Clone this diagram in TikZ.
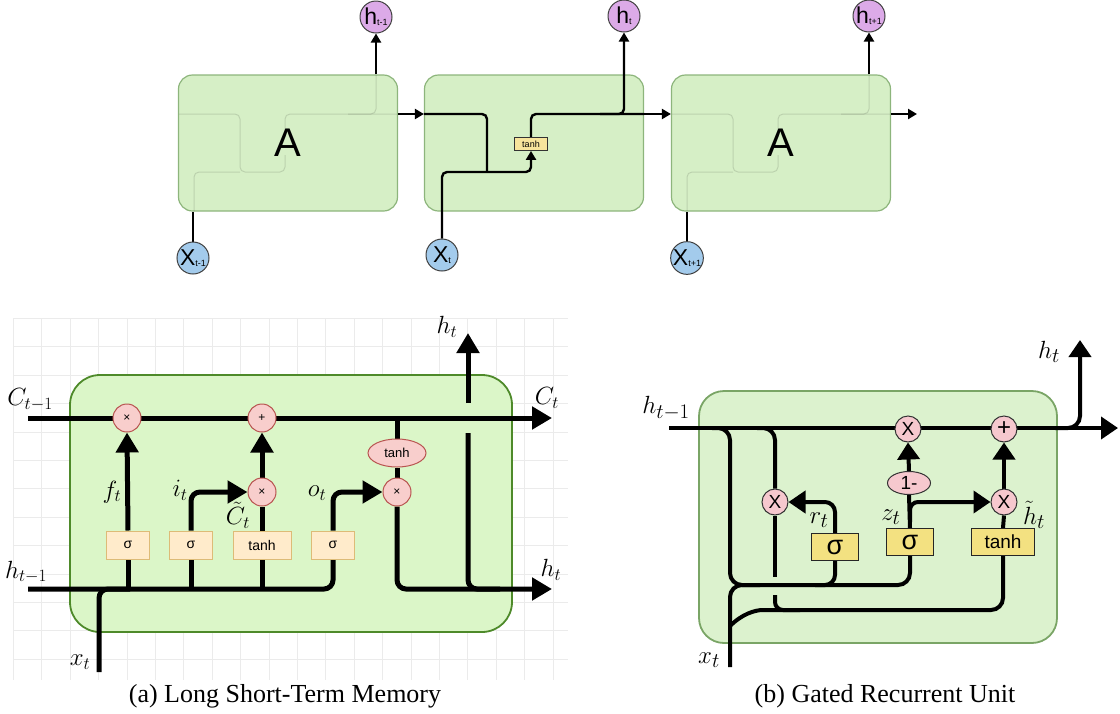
\documentclass[tikz,border=0pt]{standalone}
\usepackage{fontspec}
\setmainfont{Liberation Serif}
\newfontfamily\sansf{Liberation Sans}
\usepackage{tikz}
\usetikzlibrary{arrows.meta, shapes.geometric}

\definecolor{cellfill}{HTML}{D6EFC6}
\definecolor{celledge}{HTML}{8DB57C}
\definecolor{hfill}{HTML}{DCAAE8}
\definecolor{xfill}{HTML}{A3CBEC}
\definecolor{actfill}{HTML}{F7E49C}
\definecolor{lstmfill}{HTML}{DBF6C8}
\definecolor{lstmedge}{HTML}{4E8A2A}
\definecolor{opfill}{HTML}{F8CECC}
\definecolor{opedge}{HTML}{B85450}
\definecolor{gatefill}{HTML}{FFEBCB}
\definecolor{gateedge}{HTML}{DDBB77}
\definecolor{grufill}{HTML}{DCF2CE}
\definecolor{gruedge}{HTML}{7AA566}
\definecolor{gruact}{HTML}{F3E181}
\definecolor{gruop}{HTML}{F6C8CE}
\definecolor{gridc}{HTML}{EBEBEB}

\pgfdeclarelayer{back}
\pgfdeclarelayer{mid}
\pgfsetlayers{back,mid,main}

\newcommand\cellio[2]{\sansf\fontsize{23}{23}\selectfont #1\raisebox{-1pt}{\fontsize{9}{9}\selectfont #2}}

\tikzset{
  cell/.style={draw=celledge, fill=cellfill, line width=1.2pt, rounded corners=14pt,
    minimum width=219pt, minimum height=136pt, font=\sansf\fontsize{40}{40}\selectfont},
  hio/.style={circle, draw=black!75, line width=1pt, fill=hfill, minimum size=32pt, inner sep=0pt},
  xio/.style={hio, fill=xfill},
  toptanh/.style={draw=black!80, fill=actfill, line width=0.8pt, minimum width=33pt,
    minimum height=13pt, inner sep=0pt, font=\sansf\fontsize{9}{9}\selectfont},
  topline/.style={line width=2.4pt},
  topflow/.style={topline, -{Triangle[length=9pt,width=10pt]}},
  ghost/.style={line width=1pt, black, opacity=0.12},
  lstmbox/.style={draw=lstmedge, fill=lstmfill, line width=1.8pt, rounded corners=30pt,
    minimum width=442pt, minimum height=257pt},
  op/.style={circle, draw=opedge, fill=opfill, line width=1pt, minimum size=28pt,
    inner sep=0pt, font=\sansf\fontsize{12}{12}\selectfont},
  gate/.style={draw=gateedge, fill=gatefill, line width=1pt, minimum width=43pt,
    minimum height=28pt, inner sep=0pt, font=\sansf\fontsize{14}{14}\selectfont},
  lab/.style={inner sep=0pt, font=\fontsize{26}{26}\selectfont},
  lstmline/.style={line width=5pt},
  lstmflow/.style={lstmline, -{Triangle[length=20pt,width=22pt]}},
  grubox/.style={draw=gruedge, fill=grufill, line width=1.8pt, rounded corners=25pt,
    minimum width=358pt, minimum height=252pt},
  gop/.style={circle, draw=black!80, fill=gruop, line width=1pt, minimum size=26pt,
    inner sep=0pt, font=\sansf\fontsize{19}{19}\selectfont},
  gact/.style={draw=black!85, fill=gruact, line width=1pt, minimum width=47pt,
    minimum height=27pt, inner sep=0pt, font=\sansf\fontsize{27}{27}\selectfont},
  glab/.style={inner sep=0pt, font=\fontsize{28}{28}\selectfont},
  gline/.style={line width=4pt},
  gflow/.style={gline, -{Triangle[length=17pt,width=22pt]}},
}

\begin{document}
\begin{tikzpicture}[x=1pt, y=-1pt]
\useasboundingbox (0,0) rectangle (1120,713);

% unrolled cells
\begin{pgfonlayer}{back}
  \node[cell] (cellA) at (288,143) {A};
  \node[cell] (cellB) at (534,143) {};
  \node[cell] (cellC) at (781,143) {A};
\end{pgfonlayer}
\node[hio] (hA) at (376,17) {\cellio{h}{t-1}};
\node[hio] (hB) at (624,16) {\cellio{h}{t}};
\node[hio] (hC) at (869,16) {\cellio{h}{t+1}};
\node[xio] (xA) at (193,258) {\cellio{X}{t-1}};
\node[xio] (xB) at (442,255) {\cellio{X}{t}};
\node[xio] (xC) at (687,258) {\cellio{X}{t+1}};
\node[toptanh] (tt) at (531,144) {tanh};
\coordinate (endC) at (917,114);
\coordinate (m1) at (487,172);
\coordinate (m2) at (600,114);

\begin{pgfonlayer}{mid}
  \foreach \c in {cellA,cellC}{
    \begin{scope}[shift={(\c.center)}]
      \draw[ghost, rounded corners=5pt] (-109,-29) -| (-48,29) -| (-3,12);
      \draw[ghost, rounded corners=5pt] (-94,68) |- (-48,29);
      \draw[ghost, rounded corners=5pt] (-3,-6) |- (109,-29);
      \draw[ghost, rounded corners=5pt] (60,-29) -| (88,-68);
    \end{scope}
  }
  \draw[topflow] ([yshift=29pt]cellA.east) -- ([yshift=29pt]cellB.west);
  \draw[topflow] ([yshift=29pt]cellB.east) -- ([yshift=29pt]cellC.west);
  \draw[topflow] ([yshift=29pt]cellC.east) -- (endC);
  \draw[topflow] (hA |- cellA.north) -- (hA);
  \draw[topflow] (hC |- cellC.north) -- (hC);
  \draw[topline] (xA) -- (xA |- cellA.south);
  \draw[topline] (xC) -- (xC |- cellC.south);
  \draw[topline, rounded corners=5pt] ([yshift=29pt]cellB.west) -| (m1);
  \draw[topflow, rounded corners=5pt] (xB) |- (m1) -| (tt.south);
  \draw[topline, rounded corners=5pt] (tt.north) |- ([yshift=29pt]cellB.east);
  \draw[topflow, rounded corners=5pt] (m2) -| (hB);
\end{pgfonlayer}

% LSTM
\begin{pgfonlayer}{back}
  \foreach \i in {0,...,19}
    \draw[gridc, line width=0.7pt] (13.3+28.4*\i,318) -- (13.3+28.4*\i,680);
  \foreach \j in {0,...,12}
    \draw[gridc, line width=0.7pt] (13,318.3+28.4*\j) -- (568,318.3+28.4*\j);
  \node[lstmbox] (lstm) at (291,503.5) {};
\end{pgfonlayer}
\node[op] (fx) at (127,418) {×};
\node[op] (ac) at (262,418) {+};
\node[op] (ix) at (262,492) {×};
\node[op] (ox) at (397,492) {×};
\node[op, ellipse, minimum width=58pt, minimum height=28pt, font=\sansf\fontsize{13}{13}\selectfont] (tcell) at (397,453) {tanh};
\node[gate] (sf) at (128,545) {σ};
\node[gate] (si) at (191,545) {σ};
\node[gate, minimum width=58pt] (tc) at (262,545) {tanh};
\node[gate] (so) at (333,545) {σ};
\node[lab] (Cin) at (30,400) {$C_{t-1}$};
\node[lab] (Cout) at (547,398) {$C_t$};
\node[lab] (hin) at (26,572) {$h_{t-1}$};
\node[lab] (hout) at (551,570) {$h_t$};
\node[lab] (htop) at (447,327) {$h_t$};
\node[lab] (xin) at (80,662) {$x_t$};
\node[lab] (fl) at (112,492) {$f_t$};
\node[lab] (il) at (180,490) {$i_t$};
\node[lab] (cl) at (238,515) {$\tilde{C}_t$};
\node[lab] (ol) at (317,493) {$o_t$};
\coordinate (c0) at (28,418);
\coordinate (c1) at (552,418);
\coordinate (h0) at (28,589);
\coordinate (h1) at (552,589);
\coordinate (x0) at (99,672);
\coordinate (xj) at (130,589);
\coordinate (ht0) at (468,433);
\coordinate (ht1) at (468,403);
\coordinate (ht2) at (468,333);
\coordinate (hj) at (500,589);

\begin{pgfonlayer}{mid}
  \draw[lstmflow] (c0) -- (c1);
  \draw[lstmline, rounded corners=9pt] (h0) -| (so.south);
  \draw[lstmline, rounded corners=9pt] (x0) |- (xj);
  \foreach \g in {sf,si,tc}
    \draw[lstmline] (\g.south) -- (\g |- h0);
  \draw[lstmflow] (sf.north) -- (fx.south);
  \draw[lstmflow, rounded corners=9pt] (si.north) |- (ix.west);
  \draw[lstmline] (tc.north) -- (ix.south);
  \draw[lstmflow] (ix.north) -- (ac.south);
  \draw[lstmflow, rounded corners=9pt] (so.north) |- (ox.west);
  \draw[lstmline] (tcell |- c0) -- (tcell.north);
  \draw[lstmline] (tcell.south) -- (ox.north);
  \draw[lstmflow, rounded corners=9pt] (ox.south) |- (h1);
  \draw[lstmline, rounded corners=9pt] (ht0) |- (hj);
  \draw[lstmflow] (ht1) -- (ht2);
\end{pgfonlayer}

% GRU
\begin{pgfonlayer}{back}
  \node[grubox] (gru) at (878,517) {};
\end{pgfonlayer}
\node[gop] (zx) at (908,429) {X};
\node[gop, font=\sansf\fontsize{24}{24}\selectfont] (pl) at (1004,429) {+};
\node[gop, ellipse, minimum width=43pt, minimum height=23pt] (om) at (909,483) {1-};
\node[gop] (hx) at (1004,502) {X};
\node[gop] (rx) at (775,502) {X};
\node[gact] (sz) at (910,542) {σ};
\node[gact] (sr) at (835,547) {σ};
\node[gact, minimum width=63pt, font=\sansf\fontsize{19}{19}\selectfont] (tg) at (1003,542) {tanh};
\node[glab] (ghin) at (666,408) {$h_{t-1}$};
\node[glab] (ghout) at (1049,352) {$h_t$};
\node[glab] (zl) at (891,517) {$z_t$};
\node[glab] (hl) at (1034,515) {$\tilde{h}_t$};
\node[glab] (rl) at (819,520) {$r_t$};
\node[glab] (gxin) at (709,660) {$x_t$};
\coordinate (g0) at (669,428);
\coordinate (g1) at (1118,428);
\coordinate (gu0) at (1055,428);
\coordinate (gu1) at (1080,340);
\coordinate (gb1) at (712,428);
\coordinate (gbot) at (730,585);
\coordinate (gx0) at (730,667);
\coordinate (gxj) at (760,585);
\coordinate (gt0) at (730,626);
\coordinate (gt1) at (775,610);
\coordinate (gsr) at (815,585);
\coordinate (gr1) at (757,428);
\coordinate (gr2) at (775,577);
\coordinate (gr3) at (775,595);
\coordinate (gr4) at (800,610);
\coordinate (gz) at (910,522);

\begin{pgfonlayer}{mid}
  \draw[gflow] (g0) -- (g1);
  \draw[gflow, rounded corners=12pt] (gu0) -| (gu1);
  \draw[gline, rounded corners=12pt] (gb1) -| (gbot) -| (sz.south);
  \draw[gline, rounded corners=12pt] (gx0) |- (gxj);
  \draw[gline, rounded corners=12pt] (gt0) .. controls (742,614) and (755,610) .. (gt1) -| (tg.south);
  \draw[gline, rounded corners=10pt] (sr.south) |- (gsr);
  \draw[gflow, rounded corners=10pt] (sr.north) |- (rx.east);
  \draw[gline, rounded corners=12pt] (gr1) -| (rx.north);
  \draw[gline] (rx.south) -- (gr2);
  \draw[gline, rounded corners=8pt] (gr3) |- (gr4);
  \draw[gline] (sz.north) -- (om.south);
  \draw[gflow] (om.north) -- (zx.south);
  \draw[gflow, rounded corners=8pt] (gz) |- (hx.west);
  \draw[gline] (tg.north) -- (hx.south);
  \draw[gflow] (hx.north) -- (pl.south);
\end{pgfonlayer}

\node[font=\fontsize{26}{26}\selectfont] (capa) at (285,696) {(a) Long Short-Term Memory};
\node[font=\fontsize{26}{26}\selectfont] (capb) at (885,696) {(b) Gated Recurrent Unit};
\end{tikzpicture}
\end{document}
